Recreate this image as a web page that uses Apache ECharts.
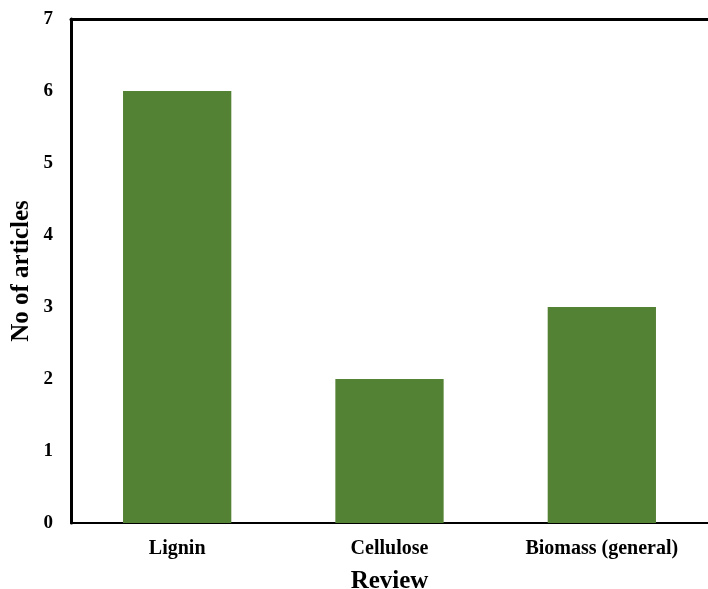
<!DOCTYPE html>
<html><head><meta charset="utf-8">
<script src="https://cdn.jsdelivr.net/npm/echarts@6/dist/echarts.min.js"></script>
<style>html,body{margin:0;padding:0;background:#fff}#c{width:708px;height:589px}</style>
</head><body><div id="c"></div>
<script>
var categories = ['Lignin', 'Cellulose', 'Biomass (general)'];
var articleCounts = [6, 2, 3];
var yTicks = [0, 1, 2, 3, 4, 5, 6, 7];

var font = '"Liberation Serif", "Times New Roman", serif';
var chart = echarts.init(document.getElementById('c'));
chart.setOption({
  animation: false,
  grid: {left: 71, right: 0, top: 19, bottom: 66, containLabel: false, outerBoundsMode: 'none'},
  xAxis: [{
    type: 'category',
    data: categories,
    position: 'bottom',
    name: 'Review',
    nameLocation: 'middle',
    nameGap: 46,
    nameTextStyle: {fontFamily: font, fontWeight: 'bold', fontSize: 25, color: '#000'},
    axisLine: {show: true, lineStyle: {color: '#000', width: 2}},
    axisTick: {show: false},
    axisLabel: {fontFamily: font, fontWeight: 'bold', fontSize: 20, color: '#000', margin: 16}
  }, {
    type: 'category',
    data: categories,
    position: 'top',
    axisLine: {show: true, lineStyle: {color: '#000', width: 3}},
    axisTick: {show: false},
    axisLabel: {show: false}
  }],
  yAxis: {
    type: 'value',
    min: yTicks[0],
    max: yTicks[yTicks.length - 1],
    interval: 1,
    name: 'No of articles',
    nameLocation: 'middle',
    nameGap: 37,
    nameMoveOverlap: false,
    nameTextStyle: {fontFamily: font, fontWeight: 'bold', fontSize: 25, color: '#000'},
    axisLine: {show: true, lineStyle: {color: '#000', width: 3}},
    axisTick: {show: false},
    splitLine: {show: false},
    axisLabel: {fontFamily: font, fontWeight: 'bold', fontSize: 19, color: '#000', margin: 18}
  },
  series: [{
    type: 'bar',
    data: articleCounts,
    barWidth: '51%',
    itemStyle: {color: '#548235'}
  }]
});
</script></body></html>
